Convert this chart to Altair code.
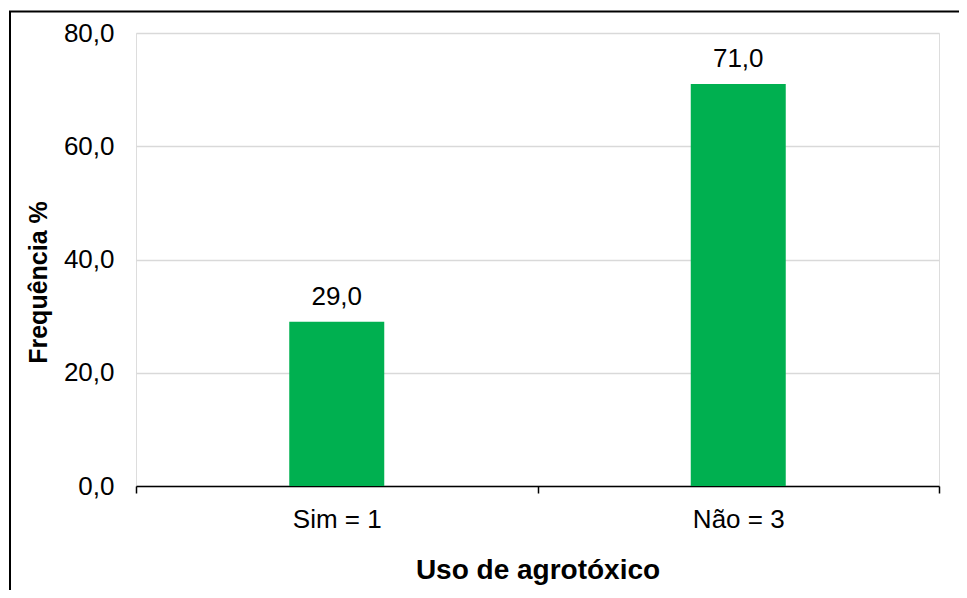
import altair as alt
import pandas as pd

categories = ["Sim = 1", "Não = 3"]
values = [29.0, 71.0]
y_ticks = [0, 20, 40, 60, 80]

df = pd.DataFrame({"uso": categories, "freq": values})
frame_df = pd.DataFrame({"k": [0]})

FONT = "Liberation Sans"
GREEN = "#00B050"

x_enc = alt.X(
    "uso:N",
    sort=categories,
    scale=alt.Scale(paddingInner=0, paddingOuter=0),
    axis=alt.Axis(
        title="Uso de agrotóxico",
        labelAngle=0,
        labelFont=FONT,
        labelFontSize=26,
        labelColor="black",
        labelPadding=13,
        tickBand="extent",
        tickSize=7,
        tickColor="black",
        tickWidth=1.5,
        domainColor="black",
        domainWidth=1.5,
        grid=False,
        titleFont=FONT,
        titleFontSize=28,
        titleFontWeight="bold",
        titleColor="black",
        titleBaseline="alphabetic",
        titleY=92,
    ),
)

y_enc = alt.Y(
    "freq:Q",
    scale=alt.Scale(domain=[0, 80], nice=False),
    axis=alt.Axis(
        title="Frequência %",
        values=y_ticks,
        labelExpr="replace(format(datum.value, '.1f'), '.', ',')",
        labelFont=FONT,
        labelFontSize=26,
        labelColor="black",
        labelPadding=22,
        ticks=False,
        domain=False,
        grid=True,
        gridColor="#d9d9d9",
        gridWidth=1.5,
        titleFont=FONT,
        titleFontSize=25,
        titleFontWeight="bold",
        titleColor="black",
        titleBaseline="alphabetic",
        titleX=-90,
        titleY=249,
        titleAngle=-90,
    ),
)

bars = alt.Chart(df).mark_bar(size=95, color=GREEN).encode(x=x_enc, y=y_enc)

labels = (
    alt.Chart(df)
    .transform_calculate(label="replace(format(datum.freq, '.1f'), '.', ',')")
    .mark_text(dy=-17, baseline="alphabetic", font=FONT, fontSize=26, color="black")
    .encode(x=alt.X("uso:N", sort=categories), y=alt.Y("freq:Q"), text="label:N")
)

frame = (
    alt.Chart(frame_df)
    .mark_rect(fill=None, stroke="black", strokeWidth=2)
    .encode(
        x=alt.value(-126),
        x2=alt.value(1000),
        y=alt.value(-21.5),
        y2=alt.value(800),
    )
)

chart = (
    alt.layer(bars, labels, frame)
    .properties(
        width=803,
        height=453,
        padding={"left": 128, "top": 25, "right": 20, "bottom": 104},
        autosize=alt.AutoSizeParams(type="none"),
    )
    .configure_view(stroke=None)
    .configure(background="white")
)

chart.save("out.html", embed_options={"renderer": "svg", "actions": False})
